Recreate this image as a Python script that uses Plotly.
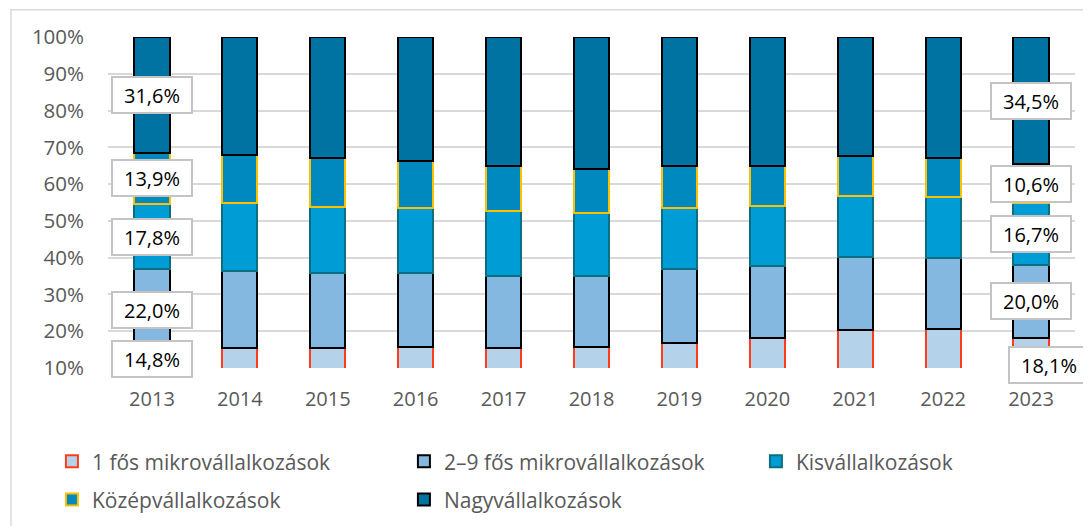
import plotly.graph_objects as go

years = ["2013", "2014", "2015", "2016", "2017", "2018", "2019", "2020", "2021", "2022", "2023"]
series_names = ["1 fős mikrovállalkozások", "2–9 fős mikrovállalkozások", "Kisvállalkozások",
                "Középvállalkozások", "Nagyvállalkozások"]
micro1 = [14.8, 15.4, 15.5, 15.8, 15.5, 15.7, 16.7, 18.1, 20.4, 20.6, 18.1]
micro2_9 = [22.0, 21.1, 20.2, 19.9, 19.5, 19.4, 20.2, 19.7, 19.7, 19.4, 20.0]
small = [17.8, 18.3, 18.0, 17.9, 17.8, 17.1, 16.6, 16.2, 16.8, 16.4, 16.7]
medium = [13.9, 13.1, 13.4, 12.7, 12.2, 11.9, 11.5, 10.9, 10.8, 10.8, 10.6]
large = [31.6, 32.1, 32.9, 33.7, 35.0, 35.9, 35.0, 35.1, 32.3, 32.8, 34.5]
labelled_years = ["2013", "2023"]
y_ticks = [10, 20, 30, 40, 50, 60, 70, 80, 90, 100]
y_tick_labels = ["10%", "20%", "30%", "40%", "50%", "60%", "70%", "80%", "90%", "100%"]

series = [micro1, micro2_9, small, medium, large]
fills = ["#B4D3EA", "#85B8E0", "#009CD6", "#0089BE", "#0073A3"]
borders = ["#FF3D1A", "#000000", "#0B6F80", "#FFC000", "#000000"]
legend_ids = ["legend", "legend", "legend", "legend2", "legend2"]

FONT = "Open Sans"
AX_MIN = 10

fig = go.Figure()
for name, vals, fc, bc, lg in zip(series_names, series, fills, borders, legend_ids):
    fig.add_trace(go.Bar(
        x=years, y=vals, name=name, legend=lg,
        marker=dict(color=fc, line=dict(color=bc, width=2)),
        hoverinfo="skip",
    ))

annotations = []
for yr in labelled_years:
    i = years.index(yr)
    base = 0.0
    for k, vals in enumerate(series):
        v = vals[i]
        lo = max(base, AX_MIN)
        hi = base + v
        mid = (lo + hi) / 2
        xs, ys = 0, 0
        if yr == "2023" and k == 0:
            xs, ys = 18, -12
        annotations.append(dict(
            x=i, y=mid, xref="x", yref="y",
            text=f"{v:.1f}".replace(".", ",") + "%",
            showarrow=False, xshift=xs, yshift=ys,
            font=dict(family=FONT, size=20, color="#000000"),
            bgcolor="#FFFFFF", bordercolor="#C4C4C4", borderwidth=2, borderpad=1,
            width=76, height=32,
        ))
        base = hi

fig.update_layout(
    width=1091, height=526,
    margin=dict(l=100, r=24, t=29, b=166, autoexpand=False),
    paper_bgcolor="#FFFFFF", plot_bgcolor="#FFFFFF",
    barmode="stack", bargap=0.6,
    font=dict(family=FONT, size=20, color="#595959"),
    annotations=annotations,
    showlegend=True,
    xaxis=dict(type="category", categoryorder="array", categoryarray=years,
               range=[-0.5, len(years) - 0.5], autorange=False,
               showgrid=False, showline=False, ticks="", zeroline=False,
               ticklabelstandoff=17,
               tickfont=dict(family=FONT, size=20, color="#595959")),
    yaxis=dict(range=[AX_MIN, 100], autorange=False, tickmode="array",
               tickvals=y_ticks, ticktext=y_tick_labels, showgrid=True,
               gridcolor="#D9D9D9", gridwidth=1.5, zeroline=False, showline=False, ticks="",
               ticklabelstandoff=23,
               tickfont=dict(family=FONT, size=20.5, color="#595959")),
    legend=dict(orientation="h", x=-0.058, xanchor="left", y=-0.283, yanchor="middle",
                entrywidth=307, entrywidthmode="pixels", traceorder="normal",
                font=dict(family=FONT, size=21, color="#595959"), bgcolor="rgba(0,0,0,0)"),
    legend2=dict(orientation="h", x=-0.058, xanchor="left", y=-0.398, yanchor="middle",
                 entrywidth=307, entrywidthmode="pixels", traceorder="normal",
                 font=dict(family=FONT, size=21, color="#595959"), bgcolor="rgba(0,0,0,0)"),
    shapes=[dict(type="rect", xref="paper", yref="paper", x0=-0.1003, y0=-0.6, x1=1.2, y1=1.0825,
                 line=dict(color="#D9D9D9", width=1.5), fillcolor="rgba(0,0,0,0)", layer="below")],
)

fig.write_html("out.html")
